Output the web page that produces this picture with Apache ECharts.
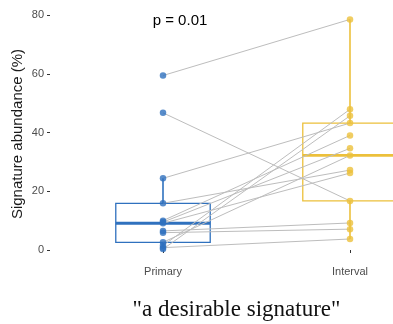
<!DOCTYPE html>
<html>
<head>
<meta charset="utf-8">
<script src="https://cdn.jsdelivr.net/npm/echarts@6/dist/echarts.min.js"></script>
<style>html,body{margin:0;padding:0;background:#fff}#c{width:393px;height:324px}</style>
</head>
<body>
<div id="c"></div>
<script>
const categories = ['Primary', 'Interval'];
// paired samples (same index = same patient)
const primaryValues = [59.4, 46.7, 24.4, 15.9, 10.0, 9.5, 9.1, 6.5, 5.9, 2.6, 1.5, 0.8, 0.3];
const intervalValues = [78.5, 16.7, 43.2, 27.2, 39.0, 34.6, 26.2, 9.2, 7.1, 32.2, 47.9, 3.75, 45.7];
const yTicks = [0, 20, 40, 60, 80];
const pLabel = 'p = 0.01';
const yTitle = 'Signature abundance (%)';
const bottomTitle = '"a desirable signature"';

const BLUE = '#2F71BE';
const YELLOW = '#ECC03B';
const colors = [BLUE, YELLOW];

function quantile(sorted, p) {
  const h = (sorted.length - 1) * p;
  const lo = Math.floor(h), hi = Math.ceil(h);
  return sorted[lo] + (sorted[hi] - sorted[lo]) * (h - lo);
}
function boxStats(vals) {
  const s = vals.slice().sort((a, b) => a - b);
  const q1 = quantile(s, 0.25), med = quantile(s, 0.5), q3 = quantile(s, 0.75);
  const iqr = q3 - q1;
  const lo = s.filter(v => v >= q1 - 1.5 * iqr)[0];
  const hiArr = s.filter(v => v <= q3 + 1.5 * iqr);
  const hi = hiArr[hiArr.length - 1];
  return [lo, q1, med, q3, hi];
}
const boxData = [
  [0].concat(boxStats(primaryValues)),
  [1].concat(boxStats(intervalValues))
];

const pairSeries = primaryValues.map((p, i) => ({
  type: 'line',
  data: [[0, p], [1, intervalValues[i]]],
  symbol: 'none',
  silent: true,
  z: 3,
  lineStyle: { color: '#BDBDBD', width: 1 }
}));

const chart = echarts.init(document.getElementById('c'), null, { renderer: 'canvas' });
chart.setOption({
  animation: false,
  backgroundColor: '#fff',
  grid: { left: 69.5, top: 15, right: -50.5, height: 235, containLabel: false, outerBoundsMode: 'none' },
  xAxis: {
    type: 'category',
    data: categories,
    boundaryGap: true,
    offset: 12,
    axisLine: { show: false },
    axisTick: { show: true, alignWithLabel: true, length: 3, lineStyle: { color: '#333', width: 1 } },
    axisLabel: { color: '#4D4D4D', fontSize: 11, fontFamily: 'Liberation Sans', margin: 4 },
    splitLine: { show: false }
  },
  yAxis: {
    type: 'value',
    min: yTicks[0],
    max: yTicks[yTicks.length - 1],
    interval: 20,
    offset: 19.5,
    axisLine: { show: false },
    axisTick: { show: true, length: 3, lineStyle: { color: '#333', width: 1 } },
    axisLabel: { color: '#4D4D4D', fontSize: 11, fontFamily: 'Liberation Sans', margin: 6 },
    splitLine: { show: false }
  },
  series: [
    {
      type: 'custom',
      data: boxData,
      z: 2,
      encode: { x: 0, y: [1, 2, 3, 4, 5] },
      renderItem: function (params, api) {
        const idx = api.value(0);
        const c = colors[idx];
        const bw = api.size([1, 0])[0] * 0.505;
        const pLo = api.coord([idx, api.value(1)]);
        const pQ1 = api.coord([idx, api.value(2)]);
        const pMed = api.coord([idx, api.value(3)]);
        const pQ3 = api.coord([idx, api.value(4)]);
        const pHi = api.coord([idx, api.value(5)]);
        const x = pMed[0];
        return {
          type: 'group',
          children: [
            { type: 'line', shape: { x1: x, y1: pQ3[1], x2: x, y2: pHi[1] }, style: { stroke: c, lineWidth: 1.6 } },
            { type: 'line', shape: { x1: x, y1: pQ1[1], x2: x, y2: pLo[1] }, style: { stroke: c, lineWidth: 1.6 } },
            { type: 'rect', shape: { x: x - bw / 2, y: pQ3[1], width: bw, height: pQ1[1] - pQ3[1] }, style: { fill: 'rgba(255,255,255,0)', stroke: c, lineWidth: 1.3 } },
            { type: 'line', shape: { x1: x - bw / 2, y1: pMed[1], x2: x + bw / 2, y2: pMed[1] }, style: { stroke: c, lineWidth: 2.8 } }
          ]
        };
      }
    }
  ].concat(pairSeries).concat([
    {
      type: 'scatter',
      data: primaryValues.map(v => [0, v]),
      symbolSize: 6.5,
      z: 5,
      itemStyle: { color: BLUE }
    },
    {
      type: 'scatter',
      data: intervalValues.map(v => [1, v]),
      symbolSize: 6.5,
      z: 5,
      itemStyle: { color: YELLOW }
    }
  ]),
  graphic: [
    {
      type: 'text', x: 17.5, y: 134, rotation: Math.PI / 2,
      style: { text: yTitle, fontSize: 15, fontFamily: 'Liberation Sans', fill: '#1a1a1a', align: 'center', verticalAlign: 'middle', textAlign: 'center', textVerticalAlign: 'middle' }
    },
    {
      type: 'text', x: 180, y: 21,
      style: { text: pLabel, fontSize: 15, fontFamily: 'Liberation Sans', fill: '#000', align: 'center', verticalAlign: 'middle', textAlign: 'center', textVerticalAlign: 'middle' }
    },
    {
      type: 'text', x: 236.5, y: 310,
      style: { text: bottomTitle, fontSize: 23, fontFamily: 'Liberation Serif', fill: '#111', align: 'center', verticalAlign: 'middle', textAlign: 'center', textVerticalAlign: 'middle' }
    }
  ]
});
</script>
</body>
</html>
